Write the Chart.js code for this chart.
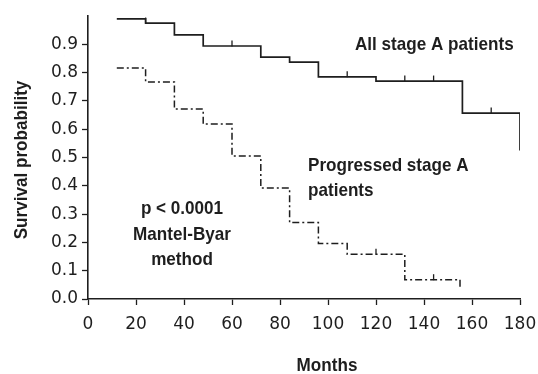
<!DOCTYPE html>
<html>
<head>
<meta charset="utf-8">
<script src="https://cdn.jsdelivr.net/npm/chart.js@4"></script>
<style>
  html, body { margin: 0; padding: 0; background: #fff; }
  #wrap { width: 538px; height: 374px; }
</style>
</head>
<body>
<div id="wrap"><canvas id="km"></canvas></div>
<script>
// === DATA ===
const xTicks = [0, 20, 40, 60, 80, 100, 120, 140, 160, 180];
const yTicks = [0.0, 0.1, 0.2, 0.3, 0.4, 0.5, 0.6, 0.7, 0.8, 0.9];

// all stage A patients (event months / survival after each step)
const allMonths = [12, 24, 36, 48, 72, 84, 96, 120, 156, 180, 180];
const allSurv   = [0.99, 0.975, 0.933, 0.894, 0.855, 0.837, 0.785, 0.77, 0.657, 0.657, 0.525];
const allCensMonths = [24, 60, 108, 132, 144, 168];
const allCensSurv   = [0.975, 0.894, 0.785, 0.77, 0.77, 0.657];

// progressed stage A patients
const progMonths = [12, 24, 36, 48, 60, 72, 84, 96, 108, 132, 155, 155];
const progSurv   = [0.816, 0.767, 0.671, 0.618, 0.505, 0.392, 0.27, 0.196, 0.158, 0.068, 0.068, 0.04];
const progCensMonths = [120, 144];
const progCensSurv   = [0.158, 0.068];

const labelAll = 'All stage A patients';
const labelProg = ['Progressed stage A', 'patients'];
const labelTest = ['p < 0.0001', 'Mantel-Byar', 'method'];
const xTitle = 'Months';
const yTitle = 'Survival probability';

const pts = (xs, ys, lift) => xs.map((x, i) => ({ x: x, y: ys[i] + (lift || 0) }));

const INK = '#1e1e1e';
const boldFont = 'bold 19px "Liberation Sans", Arial, sans-serif';
const SQUEEZE = 0.9; // condensed look of the original lettering

// titles and in-plot notes
const notes = {
  id: 'notes',
  afterDraw(chart) {
    const ctx = chart.ctx;
    const put = (txt, x, y, align, rot) => {
      ctx.save();
      ctx.translate(x, y);
      if (rot) ctx.rotate(rot);
      ctx.scale(SQUEEZE, 1);
      ctx.textAlign = align;
      ctx.fillText(txt, 0, 0);
      ctx.restore();
    };
    ctx.save();
    ctx.fillStyle = INK;
    ctx.font = boldFont;
    ctx.textBaseline = 'middle';
    put(labelAll, 355, 45, 'left');
    put(labelProg[0], 308, 166, 'left');
    put(labelProg[1], 308, 191, 'left');
    labelTest.forEach((t, i) => put(t, 182, 209 + i * 25.5, 'center'));
    put(xTitle, 327, 366, 'center');
    put(yTitle, 22, 160, 'center', -Math.PI / 2);
    ctx.restore();
  }
};

const censor = {
  type: 'scatter',
  showLine: false,
  pointStyle: 'line',
  rotation: 90,
  radius: 3,
  borderWidth: 1.3,
  borderColor: INK
};

new Chart(document.getElementById('km'), {
  type: 'line',
  data: {
    datasets: [
      {
        data: pts(allMonths, allSurv),
        stepped: true,
        borderColor: INK,
        borderWidth: 1.7,
        pointRadius: 0,
        fill: false
      },
      {
        data: pts(progMonths, progSurv),
        stepped: true,
        borderColor: INK,
        borderWidth: 1.5,
        borderDash: [7, 3, 2, 3],
        pointRadius: 0,
        fill: false
      },
      Object.assign({ data: pts(allCensMonths, allCensSurv, 0.009) }, censor),
      Object.assign({ data: pts(progCensMonths, progCensSurv, 0.009) }, censor)
    ]
  },
  options: {
    responsive: true,
    maintainAspectRatio: false,
    animation: false,
    layout: { padding: { top: 16, right: 18, left: 0, bottom: 0 } },
    plugins: { legend: { display: false }, tooltip: { enabled: false } },
    scales: {
      x: {
        type: 'linear',
        min: 0, max: 180,
        afterBuildTicks: s => { s.ticks = xTicks.map(v => ({ value: v })); },
        afterFit: s => { s.height = 75; s.paddingLeft = 0; s.paddingRight = 0; },
        grid: { drawOnChartArea: false, tickLength: 6, tickColor: INK, tickWidth: 1.3 },
        border: { color: INK, width: 1.6 },
        ticks: {
          padding: 9,
          color: INK,
          font: { family: '"DejaVu Sans", sans-serif', size: 17 }
        }
      },
      y: {
        type: 'linear',
        min: 0, max: 1.0,
        afterBuildTicks: s => { s.ticks = yTicks.map(v => ({ value: v })); },
        afterFit: s => { s.width = 88; s.paddingTop = 0; s.paddingBottom = 0; },
        grid: { drawOnChartArea: false, tickLength: 6, tickColor: INK, tickWidth: 1.3 },
        border: { color: INK, width: 1.6 },
        ticks: {
          padding: 4,
          color: INK,
          font: { family: '"DejaVu Sans", sans-serif', size: 17 },
          callback: v => v.toFixed(1)
        }
      }
    }
  },
  plugins: [notes]
});
</script>
</body>
</html>
